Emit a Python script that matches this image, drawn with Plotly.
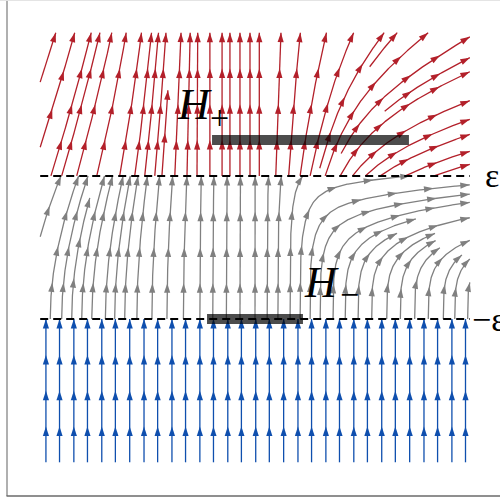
import numpy as np
import plotly.graph_objects as go

# ---------------- values ----------------
EPS = 1.0
X_LO, X_HI = -3.0, 3.0
Y_LO, Y_HI = -3.0, 3.0

# local slope dx/dy of the flow
red_x          = [-2.93, -2.16, -1.47, -0.77, 0.07, 0.49, 0.77, 1.05, 1.33, 1.75, 2.30, 3.00]
red_slope_low  = [0.32, 0.24, 0.10, 0.00, 0.00, 0.07, 0.20, 0.36, 0.70, 1.40, 2.40, 3.60]
red_slope_high = [0.32, 0.24, 0.10, 0.00, 0.00, 0.05, 0.15, 0.25, 0.40, 0.70, 1.10, 1.60]
gray_x         = [-2.93, -2.16, -1.47, -0.77, 0.07, 0.49, 0.77, 1.05, 1.33, 1.75, 2.30, 3.00]
gray_slope_lin = [0.45, 0.30, 0.12, 0.02, 0.00, 0.00, 0.00, 0.00, 0.00, 0.00, 0.00, 0.00]
gray_slope_cub = [0.00, 0.00, 0.00, 0.00, 0.00, 0.15, 1.00, 3.00, 6.00, 9.00, 11.0, 14.0]

# streamline start points
blue_seed_x = [-2.92, -2.73, -2.53, -2.34, -2.14, -1.95, -1.75, -1.55, -1.36, -1.16, -0.97,
               -0.77, -0.58, -0.38, -0.19, 0.01, 0.20, 0.40, 0.60, 0.79, 0.99, 1.18, 1.38,
               1.57, 1.77, 1.96, 2.16, 2.36, 2.55, 2.75, 2.94]
gray_seed_x = [-2.86, -2.70, -2.56, -2.42, -2.28, -2.09, -1.96, -1.82, -1.65, -1.44, -1.23,
               -1.00, -0.77, -0.59, -0.40, -0.21, 0.00, 0.17, 0.32, 0.49, 0.63, 0.77, 0.91,
               1.09, 1.26, 1.44, 1.63, 1.84, 2.03, 2.23, 2.42, 2.63, 2.79, 2.97]
gray_left_seed_y = [-0.30, 0.15, 0.55, 0.85]
red_seed_x = [-2.85, -2.70, -2.49, -2.21, -1.89, -1.68, -1.54, -1.40, -1.30, -1.12, -0.95,
              -0.81, -0.63, -0.46, -0.35, -0.21, -0.07, 0.06, 0.29, 0.47, 0.63, 0.77, 0.98,
              1.19, 1.54, 1.75, 2.10, 2.50]
red_left_seed_y = [1.15, 1.40, 1.96, 2.31]

h_plus_x, h_plus_y = [-0.60, 2.15], 1.5
h_minus_x, h_minus_y = [-0.67, 0.67], -1.0

RED, GRAY, BLUE = "#b3202a", "#808080", "#0f4fae"


# ---------------- vector fields ----------------
def f_blue(x, y):
    return 0.0, 1.0


def f_gray(x, y):
    t = min(max((y + EPS) / (2 * EPS), 0.0), 1.0)
    return (np.interp(x, gray_x, gray_slope_lin) * t
            + np.interp(x, gray_x, gray_slope_cub) * t ** 3), 1.0


def f_red(x, y):
    t = min(max((y - EPS) / (Y_HI - EPS), 0.0), 1.0)
    lo = np.interp(x, red_x, red_slope_low)
    hi = np.interp(x, red_x, red_slope_high)
    return lo + (hi - lo) * t, 1.0


def rk_step(f, x, y, h):
    def d(px, py):
        u, v = f(px, py)
        n = (u * u + v * v) ** 0.5
        return u / n, v / n
    k1 = d(x, y)
    k2 = d(x + 0.5 * h * k1[0], y + 0.5 * h * k1[1])
    k3 = d(x + 0.5 * h * k2[0], y + 0.5 * h * k2[1])
    k4 = d(x + h * k3[0], y + h * k3[1])
    return (x + h * (k1[0] + 2 * k2[0] + 2 * k3[0] + k4[0]) / 6,
            y + h * (k1[1] + 2 * k2[1] + 2 * k3[1] + k4[1]) / 6)


class Region:
    def __init__(self, f, ymin, ymax, cell=0.1):
        self.f, self.ymin, self.ymax, self.cell = f, ymin, ymax, cell
        self.nx = int(np.ceil((X_HI - X_LO) / cell)) + 1
        self.ny = int(np.ceil((ymax - ymin) / cell)) + 1
        self.occ = np.full((self.ny, self.nx), -1, int)
        self.lines = []
        self.count = 0

    def cell_of(self, x, y):
        return (min(max(int((y - self.ymin) / self.cell), 0), self.ny - 1),
                min(max(int((x - X_LO) / self.cell), 0), self.nx - 1))

    def inside(self, x, y):
        return X_LO - 1e-9 <= x <= X_HI + 1e-9 and self.ymin - 1e-9 <= y <= self.ymax + 1e-9

    def run(self, x0, y0, h, tid, smax):
        pts, cells = [], []
        x, y, s = x0, y0, 0.0
        while s < smax:
            xn, yn = rk_step(self.f, x, y, h)
            if not self.inside(xn, yn):
                lo, hi = 0.0, 1.0
                for _ in range(25):
                    m = 0.5 * (lo + hi)
                    if self.inside(x + (xn - x) * m, y + (yn - y) * m):
                        lo = m
                    else:
                        hi = m
                pts.append((x + (xn - x) * lo, y + (yn - y) * lo))
                break
            c = self.cell_of(xn, yn)
            o = self.occ[c]
            if o != -1 and o != tid:
                break
            pts.append((xn, yn))
            cells.append(c)
            s += abs(h)
            x, y = xn, yn
        return pts, cells

    def free_around(self, x, y, r):
        cj, ci = self.cell_of(x, y)
        blk = self.occ[max(cj - r, 0):cj + r + 1, max(ci - r, 0):ci + r + 1]
        return np.all(blk == -1)

    def add(self, x0, y0, both=False, clear=0, ds=0.012, smax=12, minlen=0.1):
        if not self.inside(x0, y0):
            return
        if not self.free_around(x0, y0, clear):
            return
        tid = self.count
        self.count += 1
        fw, cf = self.run(x0, y0, ds, tid, smax)
        bw, cb = ([], [])
        if both:
            bw, cb = self.run(x0, y0, -ds, tid, smax)
        pts = np.array(bw[::-1] + [(x0, y0)] + fw)
        if len(pts) < 2:
            return
        seg = np.hypot(np.diff(pts[:, 0]), np.diff(pts[:, 1]))
        if seg.sum() < minlen:
            return
        for c in cf + cb + [self.cell_of(x0, y0)]:
            self.occ[c] = tid
        self.lines.append(pts)


# ---------------- build streamlines ----------------
blue = Region(f_blue, Y_LO, -EPS)
for sx in blue_seed_x:
    blue.add(sx, Y_LO)

gray = Region(f_gray, -EPS, EPS)
for sx in gray_seed_x:
    gray.add(sx, -EPS)
for sy in gray_left_seed_y:
    gray.add(X_LO, sy, both=True, clear=1)
for sy in np.arange(-0.9, 1.0, 0.1):
    for sx in np.arange(-2.9, 3.0, 0.1):
        gray.add(sx, sy, both=True, clear=1)

red = Region(f_red, EPS, Y_HI)
for sx in red_seed_x:
    red.add(sx, EPS)
for sy in red_left_seed_y:
    red.add(X_LO, sy, both=True, clear=1)
for sy in np.arange(1.1, 3.0, 0.1):
    for sx in np.arange(-2.9, 3.0, 0.1):
        red.add(sx, sy, both=True, clear=1)


def line_xy(lines):
    xs, ys = [], []
    for p in lines:
        xs += list(p[:, 0]) + [None]
        ys += list(p[:, 1]) + [None]
    return xs, ys


def arrow_heads(lines, piece=0.5):
    ax, ay, ang = [], [], []
    for p in lines:
        seg = np.hypot(np.diff(p[:, 0]), np.diff(p[:, 1]))
        cum = np.concatenate([[0.0], np.cumsum(seg)])
        total = cum[-1]
        n = max(1, int(round(total / piece)))
        for k in range(1, n + 1):
            s = total * k / n
            x = np.interp(s, cum, p[:, 0])
            y = np.interp(s, cum, p[:, 1])
            xb = np.interp(max(s - 0.04, 0), cum, p[:, 0])
            yb = np.interp(max(s - 0.04, 0), cum, p[:, 1])
            ax.append(x)
            ay.append(y)
            ang.append(float(np.degrees(np.arctan2(x - xb, y - yb))))
    return ax, ay, ang


fig = go.Figure()
for reg, col in ((blue, BLUE), (gray, GRAY), (red, RED)):
    xs, ys = line_xy(reg.lines)
    fig.add_trace(go.Scatter(x=xs, y=ys, mode="lines", line=dict(color=col, width=1.3),
                             hoverinfo="skip", showlegend=False))
for reg, col in ((blue, BLUE), (gray, GRAY), (red, RED)):
    ax, ay, ang = arrow_heads(reg.lines)
    fig.add_trace(go.Scatter(x=ax, y=ay, mode="markers",
                             marker=dict(symbol="arrow", size=10, angle=ang, color=col,
                                         line=dict(width=0)),
                             hoverinfo="skip", showlegend=False))

# boundaries y = +-eps
for yy in (EPS, -EPS):
    fig.add_trace(go.Scatter(x=[X_LO, X_HI], y=[yy, yy], mode="lines",
                             line=dict(color="black", width=2, dash="8px,5px"),
                             hoverinfo="skip", showlegend=False))

# sets H+ and H-
for hx, hy in ((h_plus_x, h_plus_y), (h_minus_x, h_minus_y)):
    fig.add_shape(type="rect", x0=hx[0], x1=hx[1], y0=hy - 0.07, y1=hy + 0.07,
                  fillcolor="rgba(0,0,0,0.7)", line=dict(width=0), layer="above")

SERIF = "Liberation Serif"
ann = [
    dict(x=-0.85, y=2.0, text="<i>H</i>", size=44),
    dict(x=-0.49, y=1.82, text="+", size=34),
    dict(x=0.93, y=-0.49, text="<i>H</i>", size=44),
    dict(x=1.32, y=-0.66, text="\u2212", size=34),
]
for a in ann:
    fig.add_annotation(x=a["x"], y=a["y"], xref="x", yref="y", text=a["text"], showarrow=False,
                       font=dict(family=SERIF, size=a["size"], color="black"),
                       xanchor="center", yanchor="middle")
fig.add_annotation(x=3.19, y=EPS, xref="x", yref="y", text="\u03b5", showarrow=False,
                   font=dict(family=SERIF, size=34, color="black"), xanchor="left", yanchor="middle")
fig.add_annotation(x=3.0, y=-EPS, xref="x", yref="y", text="\u2212\u03b5", showarrow=False,
                   font=dict(family=SERIF, size=34, color="black"), xanchor="left", yanchor="middle")

# frame
fig.add_shape(type="line", xref="paper", yref="paper", x0=0.014, x1=0.014, y0=0.006, y1=1,
              line=dict(color="#b0b0b0", width=2))
fig.add_shape(type="line", xref="paper", yref="paper", x0=0.013, x1=1, y0=0.006, y1=0.006,
              line=dict(color="#6a6a6a", width=1.3))
fig.add_shape(type="line", xref="paper", yref="paper", x0=0.0, x1=1, y0=0.999, y1=0.999,
              line=dict(color="#e4e4e4", width=1))

fig.update_layout(
    width=500, height=499, margin=dict(l=0, r=0, t=0, b=0),
    plot_bgcolor="white", paper_bgcolor="white",
    xaxis=dict(range=[-3.5615, 3.4218], visible=False, fixedrange=True),
    yaxis=dict(range=[-3.5126, 3.4567], visible=False, fixedrange=True),
    showlegend=False,
)
fig.write_html("out.html", config={"displayModeBar": False})
